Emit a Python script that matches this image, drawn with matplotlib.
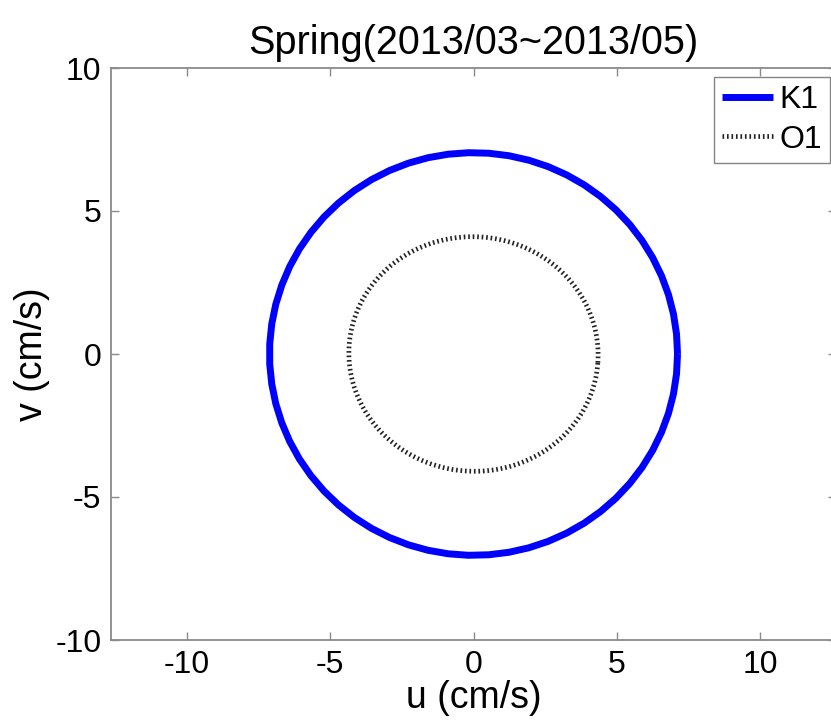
import numpy as np
import matplotlib
matplotlib.use("Agg")
import matplotlib.pyplot as plt

plt.rcParams['font.family'] = ['Liberation Sans', 'DejaVu Sans']
plt.rcParams['axes.unicode_minus'] = False

# Tidal current ellipse parameters (cm/s, degrees)
constituents = ["K1", "O1"]
semi_major = [7.12, 4.35]
semi_minor = [7.04, 4.10]
inclination = [0.0, -4.0]

title = "Spring(2013/03~2013/05)"
xticks = [-10, -5, 0, 5, 10]
yticks = [-10, -5, 0, 5, 10]

styles = {
    "K1": dict(color="#0000ff", lw=5.0, ls="-"),
    "O1": dict(color="#222222", lw=3.4, ls=(0, (0.35, 0.6))),
}
npts = {"K1": 64, "O1": 200}

fig = plt.figure(figsize=(8.31, 7.23), dpi=100)
ax = fig.add_axes([111 / 831, 1 - 640 / 723, 725 / 831, 572 / 723])

for name, a, b, inc in zip(constituents, semi_major, semi_minor, inclination):
    phase = np.linspace(0, 2 * np.pi, npts[name])
    th = np.deg2rad(inc)
    u = a * np.cos(phase) * np.cos(th) - b * np.sin(phase) * np.sin(th)
    v = a * np.cos(phase) * np.sin(th) + b * np.sin(phase) * np.cos(th)
    ax.plot(u, v, label=name, solid_capstyle="butt", **styles[name])

ax.set_xlim(-12.65, 12.65)
ax.set_ylim(-10, 10)
ax.set_xticks(xticks)
ax.set_yticks(yticks)

for sp in ax.spines.values():
    sp.set_color("#8a8a8a")
    sp.set_linewidth(1.3)
ax.tick_params(direction="in", length=6, width=1.0, color="#8a8a8a",
               labelsize=23, top=True, right=True, pad=7)

ax.set_xlabel("u (cm/s)", fontsize=27, labelpad=0)
ax.set_ylabel("v (cm/s)", fontsize=27, labelpad=4)
ax.set_title(title, fontsize=28.5, pad=10)

leg = ax.legend(loc="upper right", bbox_to_anchor=(830 / 831, 1 - 77 / 723),
                bbox_transform=fig.transFigure, borderaxespad=0,
                fancybox=False, fontsize=23, handlelength=1.6,
                handletextpad=0.2, labelspacing=0.3, borderpad=0.25)
leg.get_frame().set_edgecolor("#666666")
leg.get_frame().set_linewidth(1.0)

fig.savefig("out.png", dpi=100)
